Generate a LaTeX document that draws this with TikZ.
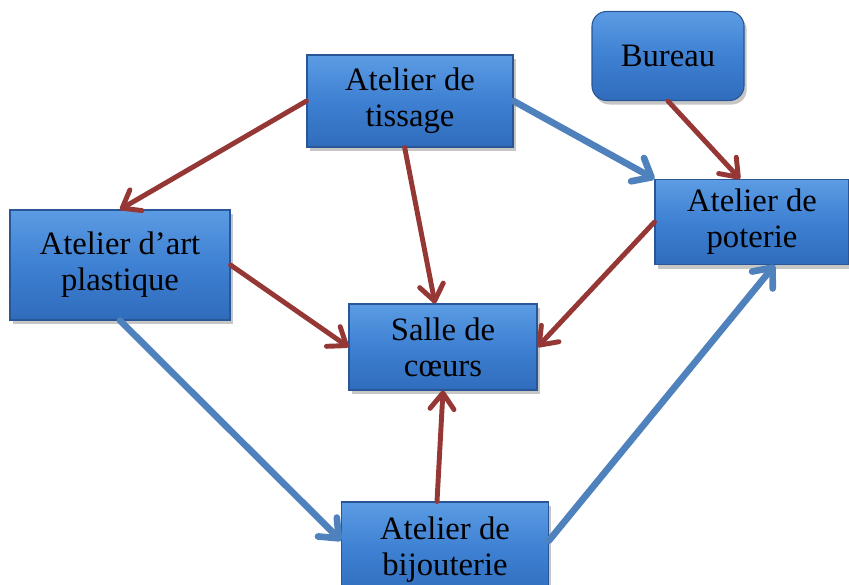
\documentclass[tikz,border=0pt]{standalone}
\usepackage{fontspec}
\setmainfont{Liberation Serif}
\usetikzlibrary{arrows.meta, shadows}

\definecolor{boxtop}{RGB}{92,156,228}
\definecolor{boxmid}{RGB}{62,128,210}
\definecolor{boxbottom}{RGB}{48,108,188}
\definecolor{boxline}{RGB}{40,86,150}
\definecolor{linkred}{RGB}{149,55,53}
\definecolor{linkblue}{RGB}{79,129,189}

\begin{document}
\begin{tikzpicture}[
    x=0.75pt, y=-0.75pt,
    room/.style={
        draw=boxline,
        line width=0.8pt,
        top color=boxtop,
        bottom color=boxbottom,
        middle color=boxmid,
        drop shadow={shadow xshift=2pt, shadow yshift=-3pt, opacity=0.45},
        align=center,
        inner sep=2pt,
        font=\fontsize{24.5}{27}\selectfont
    },
    redlink/.style={
        draw=linkred,
        line width=3.7pt,
        line cap=round,
        -{Straight Barb[length=12pt, width=18pt, round]}
    },
    bluelink/.style={
        draw=linkblue,
        line width=5pt,
        line cap=round,
        -{Straight Barb[length=12pt, width=20pt, round]}
    }
]
    \useasboundingbox (0,0) rectangle (849,585);

    % Rooms
    \node[room, minimum width=154.5pt, minimum height=69pt] (tissage) at (410,101) {Atelier de\\tissage};
    \node[room, rounded corners=11pt, minimum width=114pt, minimum height=66.75pt] (bureau) at (668,56) {Bureau};
    \node[room, minimum width=145.5pt, minimum height=63.75pt] (poterie) at (752,222) {Atelier de\\poterie};
    \node[room, minimum width=165pt, minimum height=82.5pt] (plastique) at (120,265) {Atelier d’art\\plastique};
    \node[room, minimum width=141pt, minimum height=64.5pt] (salle) at (443,347) {Salle de\\cœurs};
    \node[room, minimum width=155pt, minimum height=72pt] (bijouterie) at (445,550) {Atelier de\\bijouterie};

    % Red connections
    \draw[redlink] (tissage.west) -- (plastique.north);
    \draw[redlink] ([xshift=-4pt]tissage.south) -- ([xshift=-6pt]salle.north);
    \draw[redlink] (plastique.east) -- (salle.west);
    \draw[redlink] (poterie.west) -- (salle.east);
    \draw[redlink] ([xshift=-6pt]bijouterie.north) -- (salle.south);
    \draw[redlink] (bureau.south) -- ([xshift=-9pt]poterie.north);

    % Blue connections
    \draw[bluelink] (tissage.east) -- (poterie.north west);
    \draw[bluelink] (plastique.south) -- ([yshift=7pt]bijouterie.west);
    \draw[bluelink] ([yshift=7pt]bijouterie.east) -- ([xshift=17pt]poterie.south);

\end{tikzpicture}
\end{document}
